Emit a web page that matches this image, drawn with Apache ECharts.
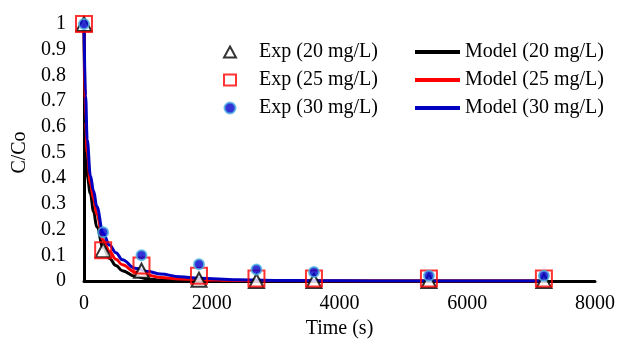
<!DOCTYPE html>
<html>
<head>
<meta charset="utf-8">
<script src="https://cdn.jsdelivr.net/npm/echarts@6/dist/echarts.min.js"></script>
<style>
  html, body { margin: 0; padding: 0; background: #fff; }
  #main { width: 620px; height: 340px; }
</style>
</head>
<body>
<div id="main"></div>
<script>
// experimental points
var expTime = [0, 300, 900, 1800, 2700, 3600, 5400, 7200];
var exp20 = [1, 0.12, 0.04, 0.005, 0, 0, 0, 0];
var exp25 = [1, 0.12, 0.06, 0.02, 0.01, 0.01, 0.01, 0.01];
var exp30 = [1, 0.19, 0.10, 0.065, 0.045, 0.035, 0.02, 0.02];

// model curves
var modelTime = [0, 25, 50, 100, 150, 200, 300, 400, 500, 600, 800, 1000, 1200, 1500, 1800, 2400, 3000, 3600, 4500, 5400, 6300, 7200];
var model20 = [1, 0.48, 0.41, 0.34, 0.27, 0.21, 0.13, 0.088, 0.06, 0.04, 0.018, 0.008, 0.004, 0.002, 0.001, 0, 0, 0, 0, 0, 0, 0];
var model25 = [1, 0.62, 0.5, 0.38, 0.32, 0.26, 0.16, 0.115, 0.085, 0.063, 0.035, 0.022, 0.014, 0.008, 0.005, 0.002, 0.001, 0, 0, 0, 0, 0];
var model30 = [1, 0.72, 0.55, 0.41, 0.35, 0.29, 0.185, 0.14, 0.11, 0.083, 0.05, 0.037, 0.027, 0.017, 0.011, 0.005, 0.002, 0.001, 0, 0, 0, 0];

function pairs(xs, ys) {
  var out = [];
  for (var i = 0; i < xs.length; i++) out.push([xs[i], ys[i]]);
  return out;
}

var font = 'Liberation Serif';
var myChart = echarts.init(document.getElementById('main'));

function modelSeries(name, data, color) {
  return {
    name: name, type: 'line', data: data,
    showSymbol: false, symbol: 'none', z: 2,
    smooth: 0.4, smoothMonotone: 'x',
    lineStyle: { color: color, width: 3 }, itemStyle: { color: color }
  };
}

var option = {
  animation: false,
  textStyle: { fontFamily: font },
  grid: { left: 84, right: 25, top: 24, bottom: 59, containLabel: false, outerBoundsMode: 'none' },
  legend: [
    {
      orient: 'vertical', left: 218, top: 37, itemGap: 8,
      itemWidth: 12, itemHeight: 11,
      textStyle: { fontFamily: font, fontSize: 20, color: '#000', padding: [0, 0, 0, 18] },
      data: ['Exp (20 mg/L)', 'Exp (25 mg/L)', 'Exp (30 mg/L)']
    },
    {
      orient: 'vertical', left: 410, top: 37, itemGap: 8,
      itemWidth: 45, itemHeight: 4, icon: 'rect',
      textStyle: { fontFamily: font, fontSize: 20, color: '#000' },
      data: ['Model (20 mg/L)', 'Model (25 mg/L)', 'Model (30 mg/L)']
    }
  ],
  xAxis: {
    type: 'value', min: 0, max: 8000, interval: 2000,
    name: 'Time (s)', nameLocation: 'middle', nameGap: 34,
    nameTextStyle: { fontFamily: font, fontSize: 20, color: '#000' },
    axisLine: { lineStyle: { color: '#000', width: 3 } },
    axisTick: { show: false },
    axisLabel: { fontFamily: font, fontSize: 20, color: '#000', margin: 13, formatter: function (v) { return String(v); } },
    splitLine: { show: false }
  },
  yAxis: {
    type: 'value', min: 0, max: 1, interval: 0.1,
    name: 'C/Co', nameLocation: 'middle', nameGap: 52,
    nameTextStyle: { fontFamily: font, fontSize: 20, color: '#000' },
    axisLine: { show: true, lineStyle: { color: '#000', width: 3 } },
    axisTick: { show: false },
    axisLabel: { fontFamily: font, fontSize: 20, color: '#000', margin: 18 },
    splitLine: { show: false }
  },
  series: [
    modelSeries('Model (20 mg/L)', pairs(modelTime, model20), '#000'),
    modelSeries('Model (25 mg/L)', pairs(modelTime, model25), '#ff0000'),
    modelSeries('Model (30 mg/L)', pairs(modelTime, model30), '#0000c0'),
    {
      name: 'Exp (20 mg/L)', type: 'scatter', data: pairs(expTime, exp20),
      symbol: 'triangle', symbolSize: [15, 14], z: 3,
      itemStyle: { color: '#fff', borderColor: '#000', borderWidth: 2 }
    },
    {
      name: 'Exp (25 mg/L)', type: 'scatter', data: pairs(expTime, exp25),
      symbol: 'rect', symbolSize: 16, z: 4,
      itemStyle: { color: 'rgba(255,255,255,0)', borderColor: '#ff0000', borderWidth: 2 }
    },
    {
      name: 'Exp (30 mg/L)', type: 'scatter', data: pairs(expTime, exp30),
      symbol: 'circle', symbolSize: 10, z: 5,
      itemStyle: { color: '#0000cc', borderColor: '#4fb3e0', borderWidth: 2 }
    }
  ]
};

myChart.setOption(option);
</script>
</body>
</html>
